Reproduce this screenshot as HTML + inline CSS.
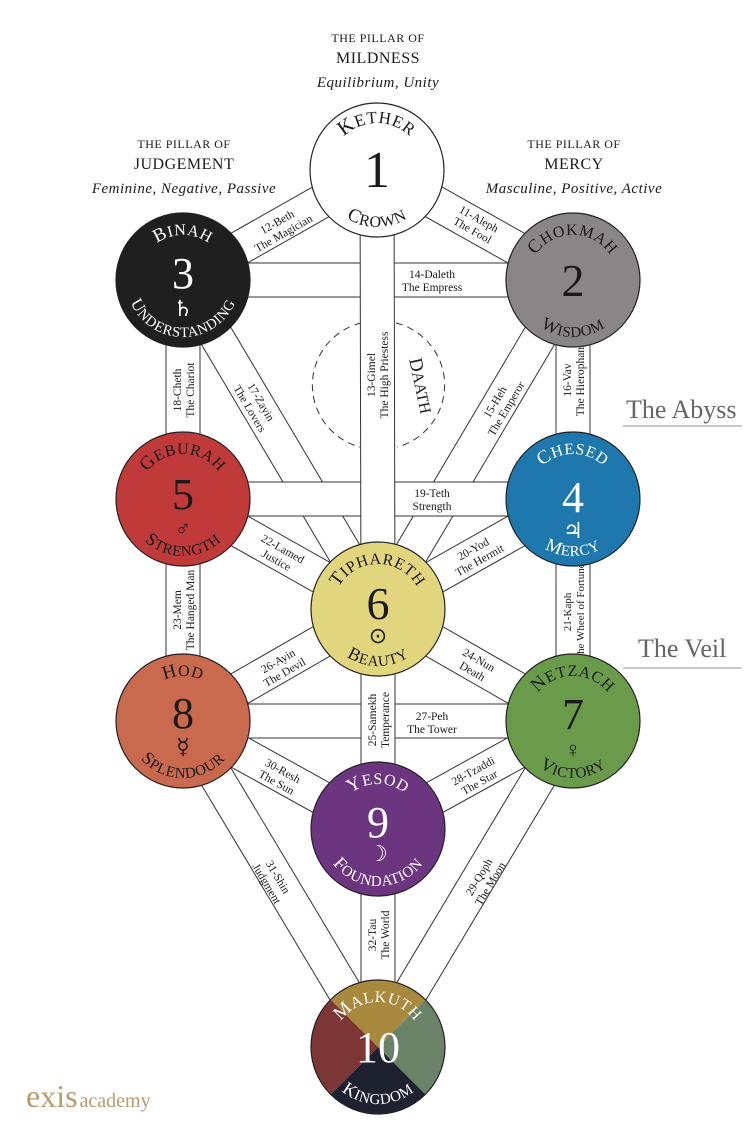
<!DOCTYPE html>
<html><head><meta charset="utf-8"><style>
html,body{margin:0;padding:0;background:#fff}
svg{display:block}
text{font-family:"Liberation Serif",serif}
</style></head><body>
<svg width="751" height="1134" viewBox="0 0 751 1134" xmlns="http://www.w3.org/2000/svg">
<defs>
<path id="tp" d="M -45,0 A 45 45 0 0 1 45,0"/>
<path id="tpk" d="M -47,0 A 47 47 0 0 1 47,0"/>
<path id="bp" d="M -57,0 A 57 57 0 0 0 57,0"/>
<g id="D">
<line x1="377" y1="170" x2="573" y2="280"/>
<line x1="377" y1="170" x2="183" y2="280"/>
<line x1="573" y1="280" x2="378" y2="609"/>
<line x1="183" y1="280" x2="378" y2="609"/>
<line x1="573" y1="499" x2="378" y2="609"/>
<line x1="183" y1="499" x2="378" y2="609"/>
<line x1="378" y1="609" x2="573" y2="721"/>
<line x1="378" y1="609" x2="183" y2="721"/>
<line x1="573" y1="721" x2="378" y2="829"/>
<line x1="573" y1="721" x2="378" y2="1047"/>
<line x1="183" y1="721" x2="378" y2="829"/>
<line x1="183" y1="721" x2="378" y2="1047"/>
</g>
<g id="H">
<line x1="183" y1="280" x2="573" y2="280"/>
<line x1="183" y1="499" x2="573" y2="499"/>
<line x1="183" y1="721" x2="573" y2="721"/>
</g>
<g id="V">
<line x1="377" y1="170" x2="378" y2="609"/>
<line x1="573" y1="280" x2="573" y2="499"/>
<line x1="183" y1="280" x2="183" y2="499"/>
<line x1="573" y1="499" x2="573" y2="721"/>
<line x1="183" y1="499" x2="183" y2="721"/>
<line x1="378" y1="609" x2="378" y2="829"/>
<line x1="378" y1="829" x2="378" y2="1047"/>
</g>
</defs>

<!-- headers -->
<g text-anchor="middle" fill="#1a1a1a" letter-spacing="0.5">
<text x="378" y="42" font-size="12">THE PILLAR OF</text>
<text x="378" y="63" font-size="16">MILDNESS</text>
<text x="378" y="87" font-size="15" font-style="italic">Equilibrium, Unity</text>
<text x="184" y="148" font-size="12">THE PILLAR OF</text>
<text x="184" y="169" font-size="16">JUDGEMENT</text>
<text x="184" y="193" font-size="15" font-style="italic">Feminine, Negative, Passive</text>
<text x="574" y="148" font-size="12">THE PILLAR OF</text>
<text x="574" y="169" font-size="16">MERCY</text>
<text x="574" y="193" font-size="15" font-style="italic">Masculine, Positive, Active</text>
</g>

<!-- abyss/veil -->
<text x="626" y="418" font-size="26" fill="#666">The Abyss</text>
<rect x="623" y="425" width="119" height="2" fill="#c8c8c8"/>
<text x="638" y="657" font-size="26" fill="#666">The Veil</text>
<rect x="623" y="667" width="119" height="2" fill="#c8c8c8"/>

<!-- paths -->
<use href="#D" stroke="#333" stroke-width="35" fill="none"/>
<use href="#D" stroke="#fff" stroke-width="33" fill="none"/>
<use href="#H" stroke="#333" stroke-width="35" fill="none"/>
<use href="#H" stroke="#fff" stroke-width="33" fill="none"/>
<use href="#V" stroke="#333" stroke-width="35" fill="none"/>
<use href="#V" stroke="#fff" stroke-width="33" fill="none"/>

<!-- Daath -->
<path d="M 361,323 A 64 64 0 0 0 360,447" fill="none" stroke="#333" stroke-width="1" stroke-dasharray="7,5"/>
<path d="M 396,323 A 64 64 0 0 1 397,447" fill="none" stroke="#333" stroke-width="1" stroke-dasharray="7,5"/>
<text transform="translate(415,387) rotate(78)" text-anchor="middle" font-size="19" fill="#222">D<tspan font-size="16">AATH</tspan></text>

<!-- path labels -->
<g font-size="11.5" fill="#1a1a1a" text-anchor="middle">
<text transform="translate(280,227) rotate(-29.6)"><tspan x="0" y="-2">12-Beth</tspan><tspan x="0" y="11">The Magician</tspan></text>
<text transform="translate(476,224) rotate(29.3)"><tspan x="0" y="-2">11-Aleph</tspan><tspan x="0" y="11">The Fool</tspan></text>
<text transform="translate(377,375) rotate(-90)"><tspan x="0" y="-2">13-Gimel</tspan><tspan x="0" y="11">The High Priestess</tspan></text>
<text x="432" y="278">14-Daleth</text><text x="432" y="291">The Empress</text>
<text transform="translate(500,405) rotate(-59.3)"><tspan x="0" y="-2">15-Heh</tspan><tspan x="0" y="11">The Emperor</tspan></text>
<text transform="translate(573,380) rotate(-90)"><tspan x="0" y="-2">16-Vav</tspan><tspan x="0" y="11">The Hierophant</tspan></text>
<text transform="translate(256,405) rotate(59.3)"><tspan x="0" y="-2">17-Zayin</tspan><tspan x="0" y="11">The Lovers</tspan></text>
<text transform="translate(183,390) rotate(-90)"><tspan x="0" y="-2">18-Cheth</tspan><tspan x="0" y="11">The Chariot</tspan></text>
<text x="432" y="497">19-Teth</text><text x="432" y="510">Strength</text>
<text transform="translate(476,554) rotate(-29.4)"><tspan x="0" y="-2">20-Yod</tspan><tspan x="0" y="11">The Hermit</tspan></text>
<text transform="translate(573,612) rotate(-90)" font-size="11"><tspan x="0" y="-2">21-Kaph</tspan><tspan x="0" y="11">The Wheel of Fortune</tspan></text>
<text transform="translate(280,554) rotate(29.4)"><tspan x="0" y="-2">22-Lamed</tspan><tspan x="0" y="11">Justice</tspan></text>
<text transform="translate(183,610) rotate(-90)"><tspan x="0" y="-2">23-Mem</tspan><tspan x="0" y="11">The Hanged Man</tspan></text>
<text transform="translate(476,665) rotate(29.9)"><tspan x="0" y="-2">24-Nun</tspan><tspan x="0" y="11">Death</tspan></text>
<text transform="translate(378,720) rotate(-90)"><tspan x="0" y="-2">25-Samekh</tspan><tspan x="0" y="11">Temperance</tspan></text>
<text transform="translate(281,666) rotate(-29.9)"><tspan x="0" y="-2">26-Ayin</tspan><tspan x="0" y="11">The Devil</tspan></text>
<text x="432" y="720">27-Peh</text><text x="432" y="733">The Tower</text>
<text transform="translate(476,776) rotate(-29)"><tspan x="0" y="-2">28-Tzaddi</tspan><tspan x="0" y="11">The Star</tspan></text>
<text transform="translate(484,880) rotate(-59.1)"><tspan x="0" y="-2">29-Qoph</tspan><tspan x="0" y="11">The Moon</tspan></text>
<text transform="translate(280,776) rotate(29)"><tspan x="0" y="-2">30-Resh</tspan><tspan x="0" y="11">The Sun</tspan></text>
<text transform="translate(273,880) rotate(59.1)"><tspan x="0" y="-2">31-Shin</tspan><tspan x="0" y="11">Judgment</tspan></text>
<text transform="translate(378,935) rotate(-90)"><tspan x="0" y="-2">32-Tau</tspan><tspan x="0" y="11">The World</tspan></text>
</g>

<!-- spheres -->
<g stroke="#222" stroke-width="1.2">
<circle cx="377" cy="170" r="67" fill="#fff"/>
<circle cx="573" cy="280" r="67" fill="#8a8587"/>
<circle cx="183" cy="280" r="67" fill="#1f1f1f"/>
<circle cx="573" cy="499" r="67" fill="#1f78ad"/>
<circle cx="183" cy="499" r="67" fill="#c03a3a"/>
<circle cx="378" cy="609" r="67" fill="#e1d67e"/>
<circle cx="573" cy="721" r="67" fill="#6a9b4a"/>
<circle cx="183" cy="721" r="67" fill="#c9694d"/>
<circle cx="378" cy="829" r="67" fill="#6b367f"/>
</g>
<g transform="translate(378,1047)">
<path d="M0,0 L-47.4,-47.4 A67 67 0 0 1 47.4,-47.4 Z" fill="#a8893d"/>
<path d="M0,0 L47.4,-47.4 A67 67 0 0 1 47.4,47.4 Z" fill="#6a8267"/>
<path d="M0,0 L47.4,47.4 A67 67 0 0 1 -47.4,47.4 Z" fill="#1e2130"/>
<path d="M0,0 L-47.4,47.4 A67 67 0 0 1 -47.4,-47.4 Z" fill="#7c3636"/>
<circle r="67" fill="none" stroke="#222" stroke-width="1.2"/>
</g>

<!-- sphere text -->
<g text-anchor="middle" letter-spacing="0.6">
<g transform="translate(377,170)" fill="#1a1a1a">
<text font-size="17"><textPath href="#tpk" startOffset="50%"><tspan font-size="21">K</tspan>ETHER</textPath></text>
<text y="17" font-size="52" letter-spacing="0">1</text>
<text font-size="16"><textPath href="#bp" startOffset="50%"><tspan font-size="19">C</tspan>ROWN</textPath></text>
</g>
<g transform="translate(573,280)" fill="#1a1a1a">
<text font-size="16"><textPath href="#tp" startOffset="50%"><tspan font-size="19">C</tspan>HOKMAH</textPath></text>
<text y="16" font-size="46" letter-spacing="0">2</text>
<text font-size="15"><textPath href="#bp" startOffset="50%"><tspan font-size="18">W</tspan>ISDOM</textPath></text>
</g>
<g transform="translate(183,280)" fill="#fff">
<text font-size="16"><textPath href="#tp" startOffset="50%"><tspan font-size="19">B</tspan>INAH</textPath></text>
<text y="8" font-size="44" letter-spacing="0">3</text>
<text y="36" font-size="22" letter-spacing="0">♄</text>
<text font-size="14.5"><textPath href="#bp" startOffset="50%"><tspan font-size="17">U</tspan>NDERSTANDING</textPath></text>
</g>
<g transform="translate(573,499)" fill="#fff">
<text font-size="16"><textPath href="#tp" startOffset="50%"><tspan font-size="19">C</tspan>HESED</textPath></text>
<text y="13" font-size="44" letter-spacing="0">4</text>
<text y="39" font-size="22" letter-spacing="0">♃</text>
<text font-size="15"><textPath href="#bp" startOffset="50%"><tspan font-size="18">M</tspan>ERCY</textPath></text>
</g>
<g transform="translate(183,499)" fill="#1a1a1a">
<text font-size="16"><textPath href="#tp" startOffset="50%"><tspan font-size="19">G</tspan>EBURAH</textPath></text>
<text y="10" font-size="44" letter-spacing="0">5</text>
<text y="37" font-size="22" letter-spacing="0">♂</text>
<text font-size="15"><textPath href="#bp" startOffset="50%"><tspan font-size="18">S</tspan>TRENGTH</textPath></text>
</g>
<g transform="translate(378,609)" fill="#1a1a1a">
<text font-size="16"><textPath href="#tp" startOffset="50%"><tspan font-size="19">T</tspan>IPHARETH</textPath></text>
<text y="10" font-size="46" letter-spacing="0">6</text>
<text y="34" font-size="22" letter-spacing="0">⊙</text>
<text font-size="15"><textPath href="#bp" startOffset="50%"><tspan font-size="18">B</tspan>EAUTY</textPath></text>
</g>
<g transform="translate(573,721)" fill="#1a1a1a">
<text font-size="16"><textPath href="#tp" startOffset="50%"><tspan font-size="19">N</tspan>ETZACH</textPath></text>
<text y="8" font-size="44" letter-spacing="0">7</text>
<text y="36" font-size="22" letter-spacing="0">♀</text>
<text font-size="15"><textPath href="#bp" startOffset="50%"><tspan font-size="18">V</tspan>ICTORY</textPath></text>
</g>
<g transform="translate(183,721)" fill="#1a1a1a">
<text font-size="16"><textPath href="#tp" startOffset="50%"><tspan font-size="19">H</tspan>OD</textPath></text>
<text y="7" font-size="44" letter-spacing="0">8</text>
<text y="33" font-size="22" letter-spacing="0">☿</text>
<text font-size="15"><textPath href="#bp" startOffset="50%"><tspan font-size="18">S</tspan>PLENDOUR</textPath></text>
</g>
<g transform="translate(378,829)" fill="#fff">
<text font-size="16"><textPath href="#tp" startOffset="50%"><tspan font-size="19">Y</tspan>ESOD</textPath></text>
<text y="8" font-size="44" letter-spacing="0">9</text>
<text y="32" font-size="22" letter-spacing="0">☽</text>
<text font-size="15"><textPath href="#bp" startOffset="50%"><tspan font-size="18">F</tspan>OUNDATION</textPath></text>
</g>
<g transform="translate(378,1047)" fill="#fff">
<text font-size="16"><textPath href="#tp" startOffset="50%"><tspan font-size="19">M</tspan>ALKUTH</textPath></text>
<text y="15" font-size="44" letter-spacing="0">10</text>
<text font-size="15"><textPath href="#bp" startOffset="50%"><tspan font-size="18">K</tspan>INGDOM</textPath></text>
</g>
</g>

<!-- logo -->
<text x="26" y="1107" font-size="32" fill="#b89c6e">exis<tspan font-size="20" dx="2">academy</tspan></text>
</svg>
</body></html>
